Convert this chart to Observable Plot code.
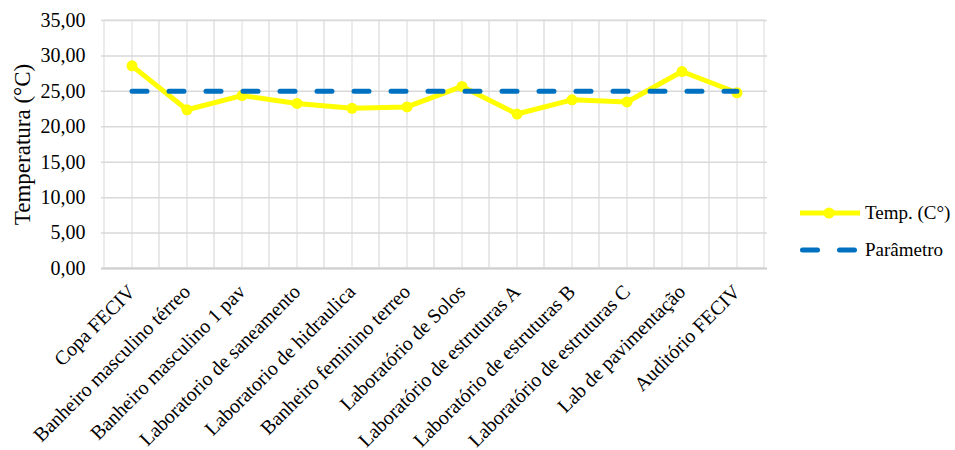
<!DOCTYPE html>
<html>
<head>
<meta charset="utf-8">
<script src="https://cdn.jsdelivr.net/npm/d3@7"></script>
<script src="https://cdn.jsdelivr.net/npm/@observablehq/plot@0.6"></script>
<style>
  body { margin: 0; background: #fff; }
  #chart { position: relative; width: 955px; height: 450px; font-family: "Liberation Serif", serif; }
  #chart svg text { font-family: "Liberation Serif", serif; }
  #legend { position: absolute; left: 790px; top: 195px; }
</style>
</head>
<body>
<div id="chart"></div>
<script>
// Temperature measured in each room of the building
const locais = [
  "Copa FECIV",
  "Banheiro masculino térreo",
  "Banheiro masculino 1 pav",
  "Laboratorio de saneamento",
  "Laboratorio de hidraulica",
  "Banheiro feminino terreo",
  "Laboratório de Solos",
  "Laboratório de estruturas A",
  "Laboratório de estruturas B",
  "Laboratório de estruturas C",
  "Lab de pavimentação",
  "Auditório FECIV"
];
const temperaturas = [28.6, 22.4, 24.4, 23.3, 22.6, 22.8, 25.7, 21.8, 23.8, 23.5, 27.8, 24.8];
// Reference value (comfort parameter)
const parametro = [25, 25, 25, 25, 25, 25, 25, 25, 25, 25, 25, 25];
const yTicks = [0, 5, 10, 15, 20, 25, 30, 35];

const seriesNames = ["Temp. (C°)", "Parâmetro"];
const yellow = "#ffff00";
const blue = "#0070c0";
const serif = "Liberation Serif, serif";

const rows = locais.map((local, i) => ({local, temp: temperaturas[i], param: parametro[i]}));
const fmt = d => d.toFixed(2).replace(".", ",");

const plot = Plot.plot({
  width: 955,
  height: 450,
  marginLeft: 101,
  marginRight: 188,
  marginTop: 20,
  marginBottom: 182,
  style: {fontFamily: serif, fontSize: "20px", color: "#000", background: "#fff"},
  x: {type: "band", domain: locais, padding: 0},
  y: {domain: [0, 35]},
  marks: [
    // vertical grid: band edges and band centres
    Plot.barY(locais, {x: d => d, y1: 0, y2: 35, fill: "none", stroke: "#e6e6e6", strokeWidth: 1.5}),
    Plot.ruleX(locais, {x: d => d, y1: 0, y2: 35, stroke: "#e6e6e6", strokeWidth: 1.5}),
    Plot.ruleY(yTicks, {stroke: "#d9d9d9", strokeWidth: 1.5}),
    Plot.ruleY([0], {stroke: "#cfcfcf", strokeWidth: 2}),
    Plot.axisY({ticks: yTicks, tickFormat: fmt, tickSize: 0, tickPadding: 16, fontSize: 20, label: null}),
    Plot.axisY({ticks: [], fontSize: 23,
      label: "Temperatura (°C)", labelAnchor: "center", labelArrow: "none", labelOffset: 88}),
    Plot.axisX({tickRotate: -45, tickSize: 0, tickPadding: 20, fontSize: 20, label: null}),
    Plot.line(rows, {x: "local", y: "temp", stroke: yellow, strokeWidth: 5, strokeLinejoin: "round"}),
    Plot.dot(rows, {x: "local", y: "temp", r: 5.5, fill: yellow}),
    Plot.line(rows, {x: "local", y: "param", stroke: blue, strokeWidth: 5, strokeDasharray: "15 22", strokeLinecap: "round"})
  ]
});
document.getElementById("chart").appendChild(plot);

// Legend
const leg = d3.select("#chart").append("svg")
  .attr("id", "legend").attr("width", 165).attr("height", 80)
  .style("font-family", serif).style("font-size", "19px");
const g1 = leg.append("g").attr("transform", "translate(0,18)");
g1.append("line").attr("x1", 10).attr("x2", 70).attr("stroke", yellow).attr("stroke-width", 5);
g1.append("circle").attr("cx", 39).attr("r", 5.5).attr("fill", yellow);
g1.append("text").attr("x", 75).attr("dy", "0.32em").text(seriesNames[0]);
const g2 = leg.append("g").attr("transform", "translate(0,55)");
g2.append("line").attr("x1", 12.5).attr("x2", 67.5).attr("stroke", blue).attr("stroke-width", 5)
  .attr("stroke-linecap", "round").attr("stroke-dasharray", "15 22");
g2.append("text").attr("x", 75).attr("dy", "0.32em").text(seriesNames[1]);
</script>
</body>
</html>
